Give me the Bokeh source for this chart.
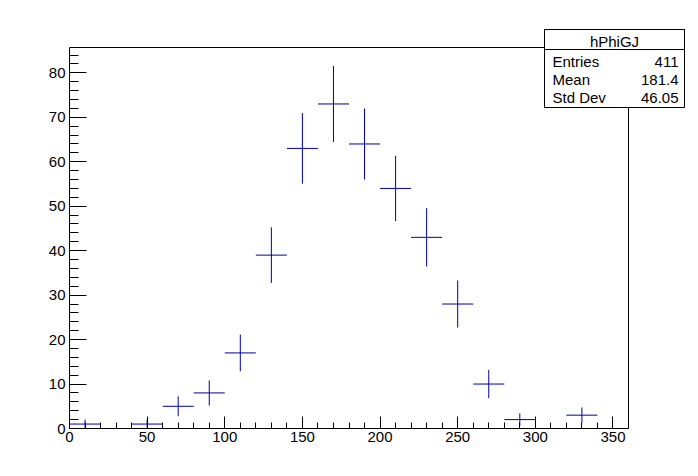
import numpy as np
from bokeh.plotting import figure
from bokeh.models import Range1d, SingleIntervalTicker, Label, BoxAnnotation, ColumnDataSource
from bokeh.embed import file_html
from bokeh.resources import INLINE

# ---- data (histogram hPhiGJ, 20-unit bins) ----
bin_low = [0, 20, 40, 60, 80, 100, 120, 140, 160, 180, 200, 220, 240, 260, 280, 300, 320, 340]
bin_width = 20
counts = [1, 0, 1, 5, 8, 17, 39, 63, 73, 64, 54, 43, 28, 10, 2, 0, 3, 0]
x_min, x_max = 0, 360
y_min, y_max = 0, 85.7
stats_title = "hPhiGJ"
stats_names = ["Entries", "Mean", "Std Dev"]
stats_values = ["411", "181.4", "46.05"]

FONT = "Liberation Sans"
COL = "#000099"

# canvas geometry (pixels)
W, H = 698, 476
F_L, F_R, F_T, F_B = 69, 690, 25, 428      # bokeh frame
AX_R, AX_T = 628, 47                        # ROOT frame right/top edges

px_per_x = (AX_R - F_L) / (x_max - x_min)
px_per_y = (F_B - AX_T) / (y_max - y_min)
xr_end = x_min + (F_R - F_L) / px_per_x
yr_end = y_min + (F_B - F_T) / px_per_y

p = figure(width=W, height=H, output_backend="svg", toolbar_location=None,
           x_range=Range1d(x_min, xr_end), y_range=Range1d(y_min, yr_end))
p.min_border_left = F_L
p.min_border_right = W - F_R
p.min_border_top = F_T
p.min_border_bottom = H - F_B
p.background_fill_color = "white"
p.border_fill_color = "white"
p.outline_line_color = None
p.xgrid.visible = False
p.ygrid.visible = False

p.xaxis.ticker = SingleIntervalTicker(interval=50, num_minor_ticks=5)
p.yaxis.ticker = SingleIntervalTicker(interval=10, num_minor_ticks=5)
p.xaxis.bounds = (x_min, x_max)
p.yaxis.bounds = (y_min, y_max)
for ax, maj, mnr in ((p.xaxis, 12, 6), (p.yaxis, 17, 9)):
    ax.major_tick_in = maj
    ax.major_tick_out = 0
    ax.minor_tick_in = mnr
    ax.minor_tick_out = 0
    ax.axis_line_color = "black"
    ax.major_tick_line_color = "black"
    ax.minor_tick_line_color = "black"
    ax.major_label_text_font = FONT
    ax.major_label_text_font_size = "15px"
    ax.major_label_text_color = "black"
p.xaxis.major_label_standoff = 3
p.yaxis.major_label_standoff = 4

# ROOT frame top and right edges
p.segment(x0=[x_min, x_max], y0=[y_max, y_min], x1=[x_max, x_max], y1=[y_max, y_max],
          line_color="black", line_width=1)

# error-bar crosses
lo = np.array(bin_low, dtype=float)
c = np.array(counts, dtype=float)
m = c > 0
centers = lo[m] + bin_width / 2
err = np.sqrt(c[m])
src = ColumnDataSource(dict(xl=lo[m], xr=lo[m] + bin_width, xc=centers,
                            y=c[m], ylo=c[m] - err, yhi=c[m] + err))
p.segment(x0="xl", x1="xr", y0="y", y1="y", source=src, line_color=COL, line_width=1)
p.segment(x0="xc", x1="xc", y0="ylo", y1="yhi", source=src, line_color=COL, line_width=1)

# ---- stats box (screen units: frame-relative, y up) ----
def sx(xpage):
    return xpage - F_L

def sy(ypage):
    return F_B - ypage

box_l, box_r, box_t, box_b, box_sep = 544, 684, 29, 107, 49
p.add_layout(BoxAnnotation(left=sx(box_l), right=sx(box_r), top=sy(box_t), bottom=sy(box_b),
                           left_units="screen", right_units="screen", top_units="screen", bottom_units="screen",
                           fill_color="white", fill_alpha=1.0, line_color="black", line_width=1, line_alpha=1.0))
p.add_layout(BoxAnnotation(left=sx(box_l), right=sx(box_r), top=sy(box_t), bottom=sy(box_sep),
                           left_units="screen", right_units="screen", top_units="screen", bottom_units="screen",
                           fill_alpha=0, line_color="black", line_width=1, line_alpha=1.0))
p.add_layout(Label(x=sx((box_l + box_r) / 2), y=sy(40.5), x_units="screen", y_units="screen",
                   text=stats_title, text_align="center", text_baseline="middle",
                   text_font=FONT, text_font_size="15px", text_color="black"))
rows_y = [61, 79, 97]
for name, val, yy in zip(stats_names, stats_values, rows_y):
    p.add_layout(Label(x=sx(552), y=sy(yy), x_units="screen", y_units="screen",
                       text=name, text_align="left", text_baseline="middle",
                       text_font=FONT, text_font_size="15px", text_color="black"))
    p.add_layout(Label(x=sx(678), y=sy(yy), x_units="screen", y_units="screen",
                       text=val, text_align="right", text_baseline="middle",
                       text_font=FONT, text_font_size="15px", text_color="black"))

open("out.html", "w").write(file_html(p, INLINE))
